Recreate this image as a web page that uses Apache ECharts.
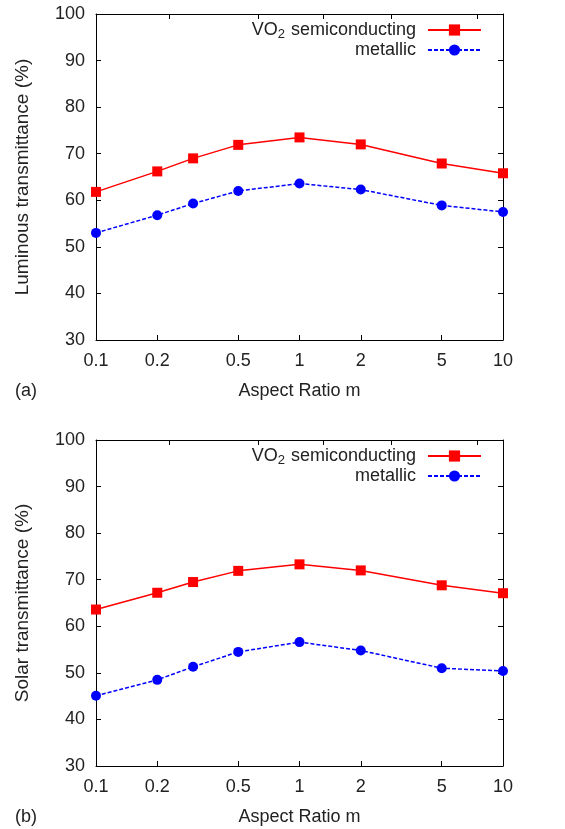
<!DOCTYPE html>
<html>
<head>
<meta charset="utf-8">
<script src="https://cdn.jsdelivr.net/npm/echarts@6/dist/echarts.min.js"></script>
<style>
  html, body { margin: 0; padding: 0; background: #fff; }
  #chart { width: 565px; height: 829px; }
</style>
</head>
<body>
<div id="chart"></div>
<script>
// Aspect ratio values (log-scaled x axis)
const aspectRatio = [0.1, 0.2, 0.3, 0.5, 1, 2, 5, 10];
const xTickValues = [0.1, 0.2, 0.5, 1, 2, 5, 10];
const topTickValues = [0.23, 0.625, 1.31, 2.83, 7.5];

// (a) luminous transmittance (%)
const lumSemiconducting = [61.8, 66.2, 69.0, 71.9, 73.5, 72.0, 67.9, 65.8];
const lumMetallic = [53.0, 56.8, 59.3, 62.0, 63.6, 62.3, 58.9, 57.5];

// (b) solar transmittance (%)
const solSemiconducting = [63.6, 67.2, 69.5, 71.9, 73.3, 72.0, 68.8, 67.1];
const solMetallic = [45.1, 48.5, 51.3, 54.5, 56.6, 54.8, 51.0, 50.4];

const seriesNames = ['VO2 semiconducting', 'metallic'];
const yTitles = ['Luminous transmittance (%)', 'Solar transmittance (%)'];
const panelLabels = ['(a)', '(b)'];
const xTitle = 'Aspect Ratio m';

const FONT = '"Liberation Sans", Arial, Helvetica, sans-serif';
const TEXT = '#222';
const RED = '#ff0000';
const BLUE = '#0000ff';

const panels = [
  { top: 14, semi: lumSemiconducting, metal: lumMetallic },
  { top: 440, semi: solSemiconducting, metal: solMetallic }
];
const PLOT_H = 326;

const grid = [], xAxis = [], yAxis = [], series = [], legend = [], title = [];

panels.forEach((p, i) => {
  grid.push({ left: 96, right: 62, top: p.top, height: PLOT_H, containLabel: false });

  // bottom x axis
  xAxis.push({
    type: 'log', logBase: 10, min: 0.1, max: 10, gridIndex: i,
    position: 'bottom',
    name: xTitle, nameLocation: 'middle', nameGap: 42,
    nameTextStyle: { fontFamily: FONT, fontSize: 18, color: TEXT },
    axisLine: { show: true, onZero: false, lineStyle: { color: '#000', width: 1 } },
    axisTick: { show: true, inside: true, length: 5, customValues: xTickValues, lineStyle: { color: '#000' } },
    axisLabel: { show: true, customValues: xTickValues, margin: 12, fontFamily: FONT, fontSize: 18, color: TEXT,
                 formatter: v => String(+v.toPrecision(3)) },
    splitLine: { show: false }, minorTick: { show: false }
  });
  // top mirror axis
  xAxis.push({
    type: 'log', logBase: 10, min: 0.1, max: 10, gridIndex: i,
    position: 'top',
    axisLine: { show: true, onZero: false, lineStyle: { color: '#000', width: 1 } },
    axisTick: { show: true, inside: true, length: 5, customValues: topTickValues, lineStyle: { color: '#000' } },
    axisLabel: { show: false },
    splitLine: { show: false }
  });
  // left y axis
  yAxis.push({
    type: 'value', min: 30, max: 100, interval: 10, gridIndex: i,
    position: 'left',
    name: yTitles[i], nameLocation: 'middle', nameGap: 64, nameRotate: 90,
    nameTextStyle: { fontFamily: FONT, fontSize: 19, color: TEXT },
    axisLine: { show: true, onZero: false, lineStyle: { color: '#000', width: 1 } },
    axisTick: { show: true, inside: true, length: 5, lineStyle: { color: '#000' } },
    axisLabel: { show: true, margin: 11, fontFamily: FONT, fontSize: 18, color: TEXT },
    splitLine: { show: false }
  });
  // right mirror axis
  yAxis.push({
    type: 'value', min: 30, max: 100, interval: 10, gridIndex: i,
    position: 'right',
    axisLine: { show: true, onZero: false, lineStyle: { color: '#000', width: 1 } },
    axisTick: { show: true, inside: true, length: 5, lineStyle: { color: '#000' } },
    axisLabel: { show: false },
    splitLine: { show: false }
  });

  series.push({
    name: seriesNames[0], type: 'line', xAxisIndex: i * 2, yAxisIndex: i * 2,
    data: aspectRatio.map((m, k) => [m, p.semi[k]]),
    symbol: 'rect', symbolSize: 10,
    lineStyle: { color: RED, width: 1.5, type: 'solid' },
    itemStyle: { color: RED },
    animation: false, z: 3
  });
  series.push({
    name: seriesNames[1], type: 'line', xAxisIndex: i * 2, yAxisIndex: i * 2,
    data: aspectRatio.map((m, k) => [m, p.metal[k]]),
    symbol: 'circle', symbolSize: 10,
    lineStyle: { color: BLUE, width: 1.5, type: [4, 2] },
    itemStyle: { color: BLUE },
    animation: false, z: 2
  });

  legend.push({
    data: seriesNames,
    orient: 'vertical', align: 'right',
    right: 83, top: p.top + 5, padding: 0,
    itemWidth: 53, itemHeight: 14, itemGap: 0,
    selectedMode: false,
    formatter: name => name === seriesNames[0] ? 'VO{sub|2} semiconducting' : name,
    textStyle: {
      fontFamily: FONT, fontSize: 18, lineHeight: 16, color: TEXT, padding: [0, 7, 0, 0],
      rich: { sub: { fontFamily: FONT, fontSize: 13, lineHeight: 16, color: TEXT, padding: [9, 1, 0, 0] } }
    }
  });

  title.push({
    text: panelLabels[i], left: 15, top: p.top + PLOT_H + 42, padding: 0,
    textStyle: { fontFamily: FONT, fontSize: 18, fontWeight: 'normal', color: TEXT }
  });
});

const chart = echarts.init(document.getElementById('chart'), null, { renderer: 'canvas' });
chart.setOption({
  animation: false,
  backgroundColor: '#fff',
  title, grid, xAxis, yAxis, series, legend
});
</script>
</body>
</html>
